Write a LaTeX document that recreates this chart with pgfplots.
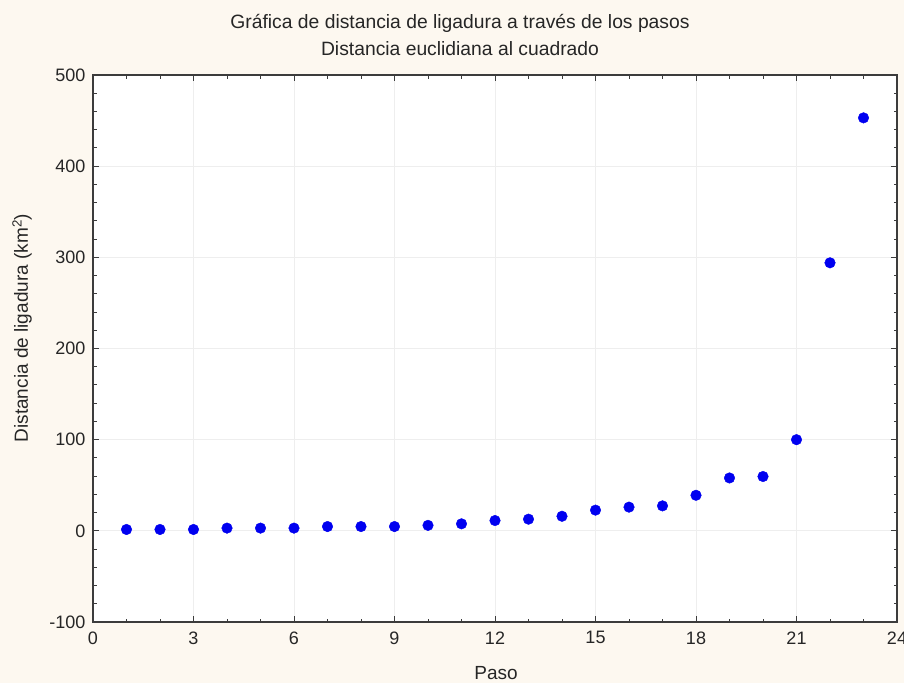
\documentclass[border=0pt]{standalone}
\usepackage{pgfplots}
\pgfplotsset{compat=1.18}
\usepackage{fontspec}
\setmainfont{Liberation Sans}
\usetikzlibrary{backgrounds}
\definecolor{bgcream}{RGB}{253,248,240}
\definecolor{axgray}{RGB}{60,60,60}
\definecolor{gridgray}{RGB}{238,238,238}
\definecolor{ptblue}{RGB}{0,0,240}

\begin{document}
\begin{tikzpicture}
\begin{axis}[
  name=ax,
  at={(0,0)}, anchor=south west,
  scale only axis,
  width=804pt, height=547pt,
  xmin=0, xmax=24, ymin=-100, ymax=500,
  xtick={0,3,...,24}, ytick={-100,0,...,500},
  minor x tick num=2, minor y tick num=4,
  tick align=inside,
  major tick length=6pt, minor tick length=3.5pt,
  tick style={axgray, line width=1pt},
  axis line style={axgray, line width=1.5pt},
  grid=major,
  major grid style={gridgray, line width=0.8pt},
  axis background/.style={fill=white},
  ticklabel style={font=\fontsize{18}{21}\selectfont, text=black!85},
  /pgf/number format/assume math mode=true,
  xticklabel style={yshift=-6pt},
  yticklabel style={xshift=-4pt},
  clip=false,
]
\addplot[only marks, mark=*, mark size=5.3pt, color=ptblue] coordinates {
  (1, 1.5) (2, 1.5) (3, 1.5) (4, 3) (5, 3) (6, 3)
  (7, 4.7) (8, 4.7) (9, 4.7) (10, 6) (11, 7.7) (12, 11.3)
  (13, 12.8) (14, 16) (15, 22.7) (16, 26) (17, 27.4) (18, 39)
  (19, 58) (20, 59.6) (21, 100) (22, 294) (23, 453)
};
\end{axis}

% titles and axis labels
\node[font=\fontsize{19.3}{22}\selectfont, text=black!85] at (367pt,599pt) {Gráfica de distancia de ligadura a través de los pasos};
\node[font=\fontsize{19.3}{22}\selectfont, text=black!85] at (367pt,573pt) {Distancia euclidiana al cuadrado};
\node[font=\fontsize{19}{22}\selectfont, text=black!85] at (403pt,-51pt) {Paso};
\node[font=\fontsize{19}{22}\selectfont, text=black!85, rotate=90] at (-71pt,294pt) {Distancia de ligadura (km\textsuperscript{2})};

\begin{pgfonlayer}{background}
\fill[bgcream] (-93pt,-61pt) rectangle (811pt,622pt);
\end{pgfonlayer}
\pgfresetboundingbox
\useasboundingbox (-93pt,-61pt) rectangle (811pt,622pt);
\end{tikzpicture}
\end{document}
